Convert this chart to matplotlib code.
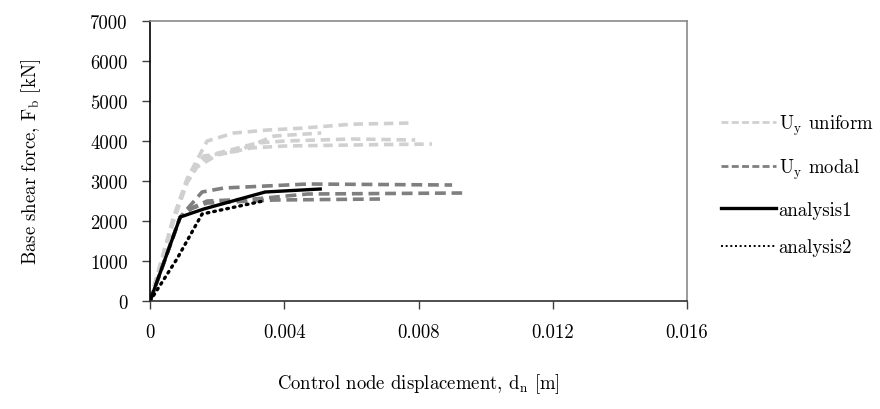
import matplotlib
matplotlib.use('Agg')
import matplotlib.pyplot as plt
from matplotlib.lines import Line2D

plt.rcParams['font.family'] = 'serif'
plt.rcParams['font.serif'] = ['cmr10', 'DejaVu Serif']
plt.rcParams['mathtext.fontset'] = 'cm'
plt.rcParams['axes.unicode_minus'] = False
plt.rcParams['axes.formatter.use_mathtext'] = True

# ------------------------------------------------------------
# pushover curves (d [m], Fb [kN])
# ------------------------------------------------------------
unif1_d = [0, 0.0003, 0.0007, 0.0011, 0.0017, 0.0025, 0.0035, 0.0045, 0.006, 0.0078]
unif1_f = [0, 900, 2100, 3050, 4000, 4200, 4275, 4320, 4420, 4450]
unif2_d = [0, 0.0003, 0.0007, 0.0011, 0.0016, 0.0026, 0.0037, 0.0051]
unif2_f = [0, 880, 2050, 3000, 3625, 3750, 4125, 4200]
unif3_d = [0, 0.0003, 0.0007, 0.0011, 0.0014, 0.0018, 0.0025, 0.0032, 0.004, 0.006, 0.0079]
unif3_f = [0, 870, 2030, 2980, 3400, 3650, 3800, 3950, 4000, 4050, 4025]
unif4_d = [0, 0.0003, 0.0007, 0.0011, 0.0014, 0.002, 0.003, 0.004, 0.006, 0.0084]
unif4_f = [0, 860, 2000, 2950, 3350, 3650, 3825, 3875, 3900, 3925]

modal1_d = [0, 0.0009, 0.00155, 0.0022, 0.0047, 0.0090]
modal1_f = [0, 2100, 2725, 2825, 2925, 2900]
modal2_d = [0, 0.0009, 0.0013, 0.0017, 0.0031, 0.0047, 0.0093]
modal2_f = [0, 2100, 2350, 2500, 2550, 2675, 2700]
modal3_d = [0, 0.0009, 0.0012, 0.0017, 0.0037, 0.00685]
modal3_f = [0, 2100, 2300, 2450, 2525, 2550]

an1_d = [0, 0.0009, 0.0016, 0.00343, 0.00507]
an1_f = [0, 2100, 2300, 2725, 2800]
an2_d = [0, 0.0008, 0.00155, 0.00337]
an2_f = [0, 1050, 2175, 2500]

xticks = [0, 0.004, 0.008, 0.012, 0.016]
xtick_labels = ['0', '0.004', '0.008', '0.012', '0.016']
yticks = [0, 1000, 2000, 3000, 4000, 5000, 6000, 7000]

legend_labels = [r'$\mathrm{U}_\mathrm{y}$ uniform', r'$\mathrm{U}_\mathrm{y}$ modal',
                 'analysis1', 'analysis2']

c_unif = '#d0d0d0'
c_modal = '#7f7f7f'

fig = plt.figure(figsize=(8.8, 4.1), dpi=100)
ax = fig.add_axes([0.1705, 0.2634, 0.6102, 0.6829])

for d, f in [(unif1_d, unif1_f), (unif2_d, unif2_f), (unif3_d, unif3_f), (unif4_d, unif4_f)]:
    ax.plot(d, f, color=c_unif, lw=2.6, dashes=(2.6, 1.6))
for d, f in [(modal1_d, modal1_f), (modal2_d, modal2_f), (modal3_d, modal3_f)]:
    ax.plot(d, f, color=c_modal, lw=2.6, dashes=(3.0, 1.6))
ax.plot(an1_d, an1_f, color='black', lw=2.4)
ax.plot(an2_d, an2_f, color='black', lw=2.4, dashes=(0.5, 1.5), dash_capstyle='round')

ax.set_xlim(0, 0.016)
ax.set_ylim(0, 7000)
ax.set_xticks(xticks, xtick_labels)
ax.set_yticks(yticks, [str(v) for v in yticks])
ax.tick_params(axis='both', labelsize=13.5, length=6, width=1, color='#404040', direction='out')
ax.tick_params(axis='y', pad=10)
ax.tick_params(axis='x', pad=10)

ax.spines['left'].set_color('black')
ax.spines['bottom'].set_color('#303030')
ax.spines['top'].set_color('#8a8a8a')
ax.spines['right'].set_color('#8a8a8a')
for s in ax.spines.values():
    s.set_linewidth(1.2)

ax.set_xlabel(r'Control node displacement, $\mathrm{d}_\mathrm{n}$ [m]', fontsize=13.5, labelpad=22)
ax.set_ylabel(r'Base shear force, $\mathrm{F}_\mathrm{b}$ [kN]', fontsize=13.5, labelpad=34)

handles = [Line2D([], [], color=c_unif, lw=2.0, dashes=(2.5, 1.2)),
           Line2D([], [], color=c_modal, lw=2.0, dashes=(2.5, 1.2)),
           Line2D([], [], color='black', lw=2.4),
           Line2D([], [], color='black', lw=1.4, dashes=(1, 1.4))]
ax.legend(handles, legend_labels, loc='upper left', bbox_to_anchor=(1.05, 0.70),
          frameon=False, fontsize=13.5, handlelength=2.9, handletextpad=0.15,
          labelspacing=1.05, borderaxespad=0)

fig.savefig('out.png', dpi=100)
